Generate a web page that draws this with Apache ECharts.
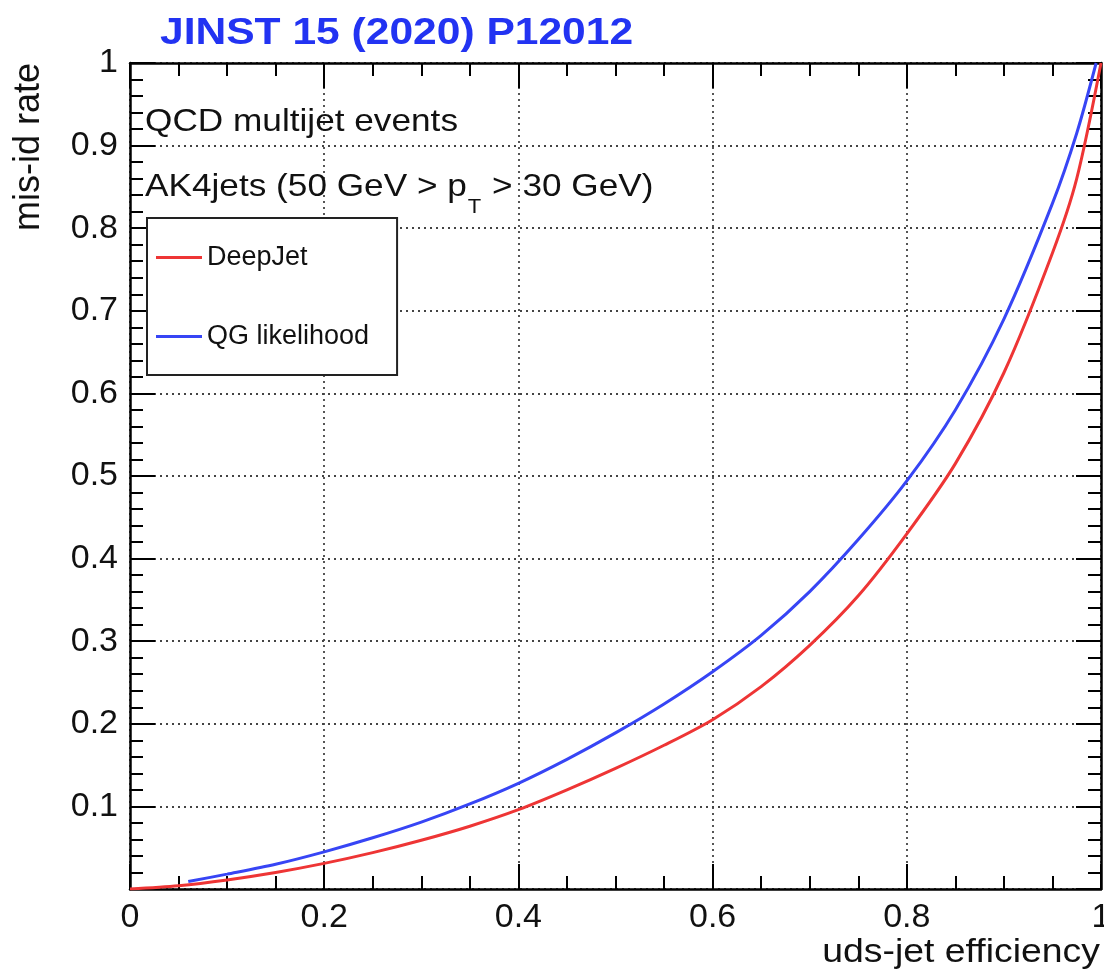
<!DOCTYPE html>
<html>
<head>
<meta charset="utf-8">
<script src="https://cdn.jsdelivr.net/npm/echarts@6/dist/echarts.min.js"></script>
<style>html,body{margin:0;padding:0;background:#fff}#c{width:1104px;height:973px}</style>
</head>
<body>
<div id="c"></div>
<script>
// ---- data ----
const seriesNames = ['DeepJet', 'QG likelihood'];
const deepJetX = [0, 0.05, 0.1, 0.15, 0.2, 0.25, 0.3, 0.35, 0.4, 0.45, 0.5, 0.55, 0.6, 0.65, 0.7, 0.75, 0.8, 0.85, 0.9, 0.95, 0.975, 1.0];
const deepJetY = [0, 0.004, 0.011, 0.020, 0.031, 0.044, 0.059, 0.076, 0.096, 0.120, 0.146, 0.174, 0.205, 0.245, 0.295, 0.355, 0.430, 0.515, 0.625, 0.770, 0.860, 1.0];
const qgX = [0.06, 0.1, 0.15, 0.2, 0.25, 0.3, 0.35, 0.4, 0.45, 0.5, 0.55, 0.6, 0.65, 0.7, 0.75, 0.8, 0.85, 0.9, 0.95, 0.975, 0.995];
const qgY = [0.009, 0.018, 0.030, 0.045, 0.062, 0.081, 0.103, 0.128, 0.157, 0.189, 0.224, 0.263, 0.307, 0.360, 0.423, 0.494, 0.580, 0.690, 0.830, 0.915, 1.0];
const xTickLabels = ['0', '0.2', '0.4', '0.6', '0.8', '1'];
const yTickLabels = ['', '0.1', '0.2', '0.3', '0.4', '0.5', '0.6', '0.7', '0.8', '0.9', '1'];
const titleText = 'JINST 15 (2020) P12012';
const xAxisTitle = 'uds-jet efficiency';
const yAxisTitle = 'mis-id rate';
const note1 = 'QCD multijet events';
const note2a = 'AK4jets (50 GeV > p';
const note2sub = 'T';
const note2b = ' > 30 GeV)';

const FONT = '"Liberation Sans", Arial, Helvetica, sans-serif';
const red = '#ee3535';
const blue = '#3745f5';
const sx = 1.1;

function pairs(xs, ys) { return xs.map((x, i) => [x, ys[i]]); }

const mctx = document.createElement('canvas').getContext('2d');
function measure(t, size) { mctx.font = size + 'px ' + FONT; return mctx.measureText(t).width; }

const x2a = 145;
const w2a = measure(note2a, 32) * sx;
const wSub = measure(note2sub, 20) * sx;

const chart = echarts.init(document.getElementById('c'), null, { renderer: 'canvas' });

const tickCommon = {
  axisLine: { show: true, onZero: false, lineStyle: { color: '#000', width: 2.5 } },
  axisTick: { show: true, inside: true, length: 25, lineStyle: { color: '#000', width: 2 } },
  minorTick: { show: true, length: 13, lineStyle: { color: '#000', width: 2 } },
  minorSplitLine: { show: false }
};
const gridLine = { show: true, lineStyle: { color: '#444', width: 1.8, type: [2, 4] } };

const option = {
  backgroundColor: '#fff',
  animation: false,
  grid: { left: 130, right: 3, top: 63, bottom: 84, containLabel: false, outerBoundsMode: 'none' },
  xAxis: [
    Object.assign({}, tickCommon, {
      type: 'value', min: 0, max: 1, interval: 0.2, position: 'bottom',
      minorTick: Object.assign({}, tickCommon.minorTick, { splitNumber: 4 }),
      splitLine: gridLine,
      axisLabel: {
        show: true, margin: 12, fontSize: 34, color: '#111', fontFamily: FONT,
        formatter: (v) => xTickLabels[Math.round(v / 0.2)]
      }
    }),
    Object.assign({}, tickCommon, {
      type: 'value', min: 0, max: 1, interval: 0.2, position: 'top',
      minorTick: Object.assign({}, tickCommon.minorTick, { splitNumber: 4 }),
      splitLine: { show: false }, axisLabel: { show: false }
    })
  ],
  yAxis: [
    Object.assign({}, tickCommon, {
      type: 'value', min: 0, max: 1, interval: 0.1, position: 'left',
      minorTick: Object.assign({}, tickCommon.minorTick, { splitNumber: 5 }),
      splitLine: gridLine,
      axisLabel: {
        show: true, margin: 12, fontSize: 34, color: '#111', fontFamily: FONT,
        formatter: (v) => yTickLabels[Math.round(v / 0.1)]
      }
    }),
    Object.assign({}, tickCommon, {
      type: 'value', min: 0, max: 1, interval: 0.1, position: 'right',
      minorTick: Object.assign({}, tickCommon.minorTick, { splitNumber: 5 }),
      splitLine: { show: false }, axisLabel: { show: false }
    })
  ],
  legend: {
    show: true, orient: 'vertical', left: 147, top: 218,
    data: seriesNames,
    icon: 'rect', itemWidth: 46, itemHeight: 3, itemGap: 52,
    padding: [26, 28, 25, 9],
    backgroundColor: '#fff', borderColor: '#222', borderWidth: 2,
    textStyle: { fontSize: 27, lineHeight: 26, color: '#111', fontFamily: FONT }
  },
  series: [
    {
      name: seriesNames[0], type: 'line', xAxisIndex: 0, yAxisIndex: 0,
      data: pairs(deepJetX, deepJetY), smooth: 0.3,
      symbol: 'none', lineStyle: { color: red, width: 3 }, itemStyle: { color: red }, z: 5
    },
    {
      name: seriesNames[1], type: 'line', xAxisIndex: 0, yAxisIndex: 0,
      data: pairs(qgX, qgY), smooth: 0.3,
      symbol: 'none', lineStyle: { color: blue, width: 3 }, itemStyle: { color: blue }, z: 6
    }
  ],
  graphic: [
    { type: 'text', x: 160, y: 34, scaleX: 1.15, z: 10,
      style: { text: titleText, font: 'bold 37px ' + FONT, fill: '#2233f2', textAlign: 'left', textVerticalAlign: 'middle' } },
    { type: 'text', x: 29, y: 147, rotation: Math.PI / 2, z: 10,
      style: { text: yAxisTitle, font: '36px ' + FONT, fill: '#111', textAlign: 'center', textVerticalAlign: 'middle' } },
    { type: 'text', x: 1100, y: 953, scaleX: sx, z: 10,
      style: { text: xAxisTitle, font: '34px ' + FONT, fill: '#111', textAlign: 'right', textVerticalAlign: 'middle' } },
    { type: 'text', x: 145, y: 122, scaleX: sx, z: 10,
      style: { text: note1, font: '32px ' + FONT, fill: '#111', textAlign: 'left', textVerticalAlign: 'middle' } },
    { type: 'text', x: x2a, y: 187, scaleX: sx, z: 10,
      style: { text: note2a, font: '32px ' + FONT, fill: '#111', textAlign: 'left', textVerticalAlign: 'middle' } },
    { type: 'text', x: x2a + w2a + 1, y: 207, scaleX: sx, z: 10,
      style: { text: note2sub, font: '20px ' + FONT, fill: '#111', textAlign: 'left', textVerticalAlign: 'middle' } },
    { type: 'text', x: x2a + w2a + wSub + 2, y: 187, scaleX: sx, z: 10,
      style: { text: note2b, font: '32px ' + FONT, fill: '#111', textAlign: 'left', textVerticalAlign: 'middle' } }
  ]
};
chart.setOption(option);
</script>
</body>
</html>
